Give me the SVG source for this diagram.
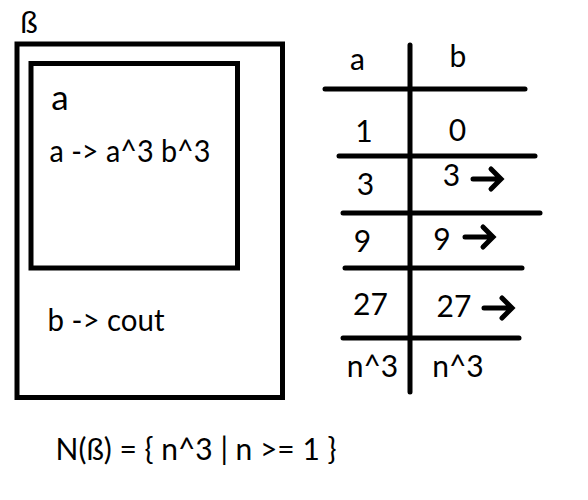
<svg xmlns="http://www.w3.org/2000/svg" width="588" height="500" viewBox="0 0 588 500">
  <defs>
    <style>
      .box { fill: none; stroke: #000; stroke-width: 5; }
      .rule { stroke: #000; stroke-width: 5; stroke-linecap: round; fill: none; }
      .t { font-family: Lato, "Open Sans", sans-serif; font-size: 30px; fill: #000; }
      .c { text-anchor: middle; }
      .arr { fill: none; stroke: #000; stroke-width: 5; stroke-linecap: round; stroke-linejoin: miter; }
    </style>
    <path id="arrow" class="arr" d="M-28,0 H-3 M-10,-10 L0,0 L-10,10"/>
  </defs>
  <rect width="588" height="500" fill="#fff"/>

  <g id="node-beta">
    <rect class="box" x="17" y="44" width="265.5" height="353.5"/>
    <text class="t c" x="29" y="33">ß</text>
    <text class="t" x="47.5" y="331" textLength="117" lengthAdjust="spacingAndGlyphs">b -&gt; cout</text>
  </g>

  <g id="node-a">
    <rect class="box" x="31" y="63.5" width="206.5" height="204.5"/>
    <text class="t c" x="60" y="110" style="font-size:35px">a</text>
    <text class="t" x="49.5" y="162" textLength="161" lengthAdjust="spacingAndGlyphs">a -&gt; a^3 b^3</text>
  </g>

  <g id="table">
    <line class="rule" x1="410" y1="45" x2="410" y2="392"/>
    <line class="rule" x1="325" y1="89" x2="525" y2="89"/>
    <line class="rule" x1="339" y1="156" x2="535" y2="156"/>
    <line class="rule" x1="343" y1="213" x2="540" y2="213"/>
    <line class="rule" x1="345" y1="268" x2="522" y2="268"/>
    <line class="rule" x1="343" y1="338" x2="519" y2="338"/>
    <text class="t c" x="357.5" y="70">a</text>
    <text class="t c" x="458" y="67">b</text>
    <text class="t c" x="364" y="142">1</text>
    <text class="t c" x="457.5" y="141">0</text>
    <text class="t c" x="365.5" y="195">3</text>
    <text class="t c" x="451.5" y="186">3</text>
    <text class="t c" x="362.5" y="252">9</text>
    <text class="t c" x="442" y="250">9</text>
    <text class="t c" x="370.5" y="315">27</text>
    <text class="t c" x="454" y="317">27</text>
    <text class="t c" x="372.5" y="377">n^3</text>
    <text class="t c" x="458" y="377">n^3</text>
  </g>

  <g id="arrows">
    <use href="#arrow" x="501" y="179"/>
    <use href="#arrow" x="493" y="237"/>
    <use href="#arrow" x="512" y="308"/>
  </g>

  <g id="formula">
    <text class="t" x="55.5" y="460" textLength="281" lengthAdjust="spacingAndGlyphs">N(ß) = { n^3 | n &gt;= 1 }</text>
  </g>
</svg>
